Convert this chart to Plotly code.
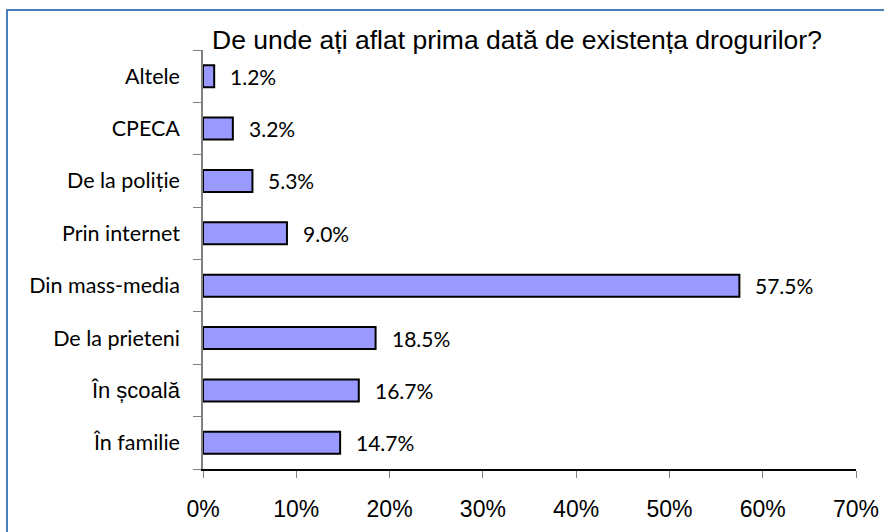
import plotly.graph_objects as go

categories = ["În familie", "În școală", "De la prieteni", "Din mass-media",
              "Prin internet", "De la poliție", "CPECA", "Altele"]
values = [14.7, 16.7, 18.5, 57.5, 9.0, 5.3, 3.2, 1.2]
x_tick_values = [0, 10, 20, 30, 40, 50, 60, 70]
x_tick_labels = [f"{v}%" for v in x_tick_values]
title_text = "De unde ați aflat prima dată de existența drogurilor?"

W, H = 884, 532
L, R, T, B = 203, 28, 50, 63
pw, ph = W - L - R, H - T - B

tick_text = [
    '<span style="font-family:Arial, Liberation Sans;font-size:22px">' + c + '</span>'
    if c == "În școală" else c
    for c in categories
]

fig = go.Figure()
fig.add_trace(go.Bar(
    x=values, y=categories, orientation="h",
    marker=dict(color="#9999FF", line=dict(color="#000000", width=2)),
    showlegend=False, hoverinfo="skip",
))

for v, c in zip(values, categories):
    fig.add_annotation(
        x=v, y=c, text=f"{v:.1f}%", showarrow=False,
        xanchor="left", yanchor="middle", xshift=14,
        font=dict(family="Lato", size=21, color="#000000"),
    )

fig.update_layout(
    width=W, height=H, autosize=False,
    margin=dict(l=L, r=R, t=T, b=B, pad=0, autoexpand=False),
    paper_bgcolor="white", plot_bgcolor="white",
    bargap=0.58,
    title=dict(
        text=title_text, x=517 / W, xref="container", xanchor="center",
        y=1 - 40 / H, yref="container", yanchor="middle", automargin=False,
        font=dict(family="Liberation Sans, Arial", size=26.5, color="#000000"),
    ),
    xaxis=dict(
        range=[0, 70], tickmode="array", tickvals=x_tick_values, ticktext=x_tick_labels,
        showgrid=False, zeroline=False, automargin=False,
        showline=True, linecolor="#000000", linewidth=1.5,
        ticks="outside", ticklen=7, tickcolor="#808080", tickwidth=1,
        tickfont=dict(family="Liberation Sans, Arial", size=23, color="#000000"),
        ticklabelstandoff=12, fixedrange=True,
    ),
    yaxis=dict(
        type="category", categoryorder="array", categoryarray=categories,
        tickmode="array", tickvals=categories, ticktext=tick_text,
        tickson="boundaries", range=[-0.5, len(categories) - 0.5],
        showgrid=False, zeroline=False, automargin=False,
        showline=True, linecolor="#808080", linewidth=1.5,
        ticks="outside", ticklen=8, tickcolor="#808080", tickwidth=1,
        tickfont=dict(family="Lato", size=21.5, color="#000000"),
        ticklabelstandoff=17, fixedrange=True,
    ),
    shapes=[dict(
        type="rect", xref="paper", yref="paper",
        x0=(7 - L) / pw, x1=1 + 60 / pw,
        y0=-(100) / ph, y1=1 + (T - 10) / ph,
        line=dict(color="#4A7EBB", width=2), fillcolor="rgba(0,0,0,0)",
        layer="below",
    )],
)

fig.write_html("out.html", config={"displayModeBar": False},
               post_script="document.body.style.margin='0';")
